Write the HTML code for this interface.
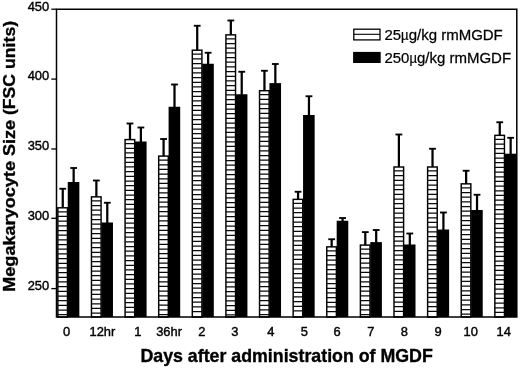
<!DOCTYPE html><html><head><meta charset="utf-8"><style>html,body{margin:0;padding:0;background:#fff}svg{display:block;filter:grayscale(1)}text{font-family:"Liberation Sans",sans-serif;fill:#000}</style></head><body>
<svg width="520" height="368" viewBox="0 0 520 368">
<rect width="520" height="368" fill="#fff"/>
<rect x="57.85" y="207.80" width="9.60" height="109.20" fill="#fff" stroke="#000" stroke-width="1.45"/>
<path d="M57.85 211.78H67.45M57.85 216.46H67.45M57.85 221.14H67.45M57.85 225.82H67.45M57.85 230.50H67.45M57.85 235.18H67.45M57.85 239.86H67.45M57.85 244.54H67.45M57.85 249.22H67.45M57.85 253.90H67.45M57.85 258.58H67.45M57.85 263.26H67.45M57.85 267.94H67.45M57.85 272.62H67.45M57.85 277.30H67.45M57.85 281.98H67.45M57.85 286.66H67.45M57.85 291.34H67.45M57.85 296.02H67.45M57.85 300.70H67.45M57.85 305.38H67.45M57.85 310.06H67.45M57.85 314.74H67.45" stroke="#0a0a0a" stroke-width="1.25" fill="none"/>
<rect x="67.75" y="182.00" width="11.60" height="135.00" fill="#000"/>
<path d="M62.75 207.70V188.75" stroke="#000" stroke-width="2.25" fill="none"/>
<path d="M59.35 188.75H66.15" stroke="#000" stroke-width="1.85" fill="none"/>
<path d="M73.65 182.50V168.00" stroke="#000" stroke-width="2.25" fill="none"/>
<path d="M70.25 168.00H77.05" stroke="#000" stroke-width="1.85" fill="none"/>
<rect x="91.47" y="196.85" width="9.60" height="120.15" fill="#fff" stroke="#000" stroke-width="1.45"/>
<path d="M91.47 200.83H101.07M91.47 205.51H101.07M91.47 210.19H101.07M91.47 214.87H101.07M91.47 219.55H101.07M91.47 224.23H101.07M91.47 228.91H101.07M91.47 233.59H101.07M91.47 238.27H101.07M91.47 242.95H101.07M91.47 247.63H101.07M91.47 252.31H101.07M91.47 256.99H101.07M91.47 261.67H101.07M91.47 266.35H101.07M91.47 271.03H101.07M91.47 275.71H101.07M91.47 280.39H101.07M91.47 285.07H101.07M91.47 289.75H101.07M91.47 294.43H101.07M91.47 299.11H101.07M91.47 303.79H101.07M91.47 308.47H101.07M91.47 313.15H101.07" stroke="#0a0a0a" stroke-width="1.25" fill="none"/>
<rect x="101.37" y="222.50" width="11.60" height="94.50" fill="#000"/>
<path d="M96.37 196.75V180.50" stroke="#000" stroke-width="2.25" fill="none"/>
<path d="M92.97 180.50H99.77" stroke="#000" stroke-width="1.85" fill="none"/>
<path d="M107.27 223.00V202.75" stroke="#000" stroke-width="2.25" fill="none"/>
<path d="M103.86 202.75H110.67" stroke="#000" stroke-width="1.85" fill="none"/>
<rect x="125.08" y="139.60" width="9.60" height="177.40" fill="#fff" stroke="#000" stroke-width="1.45"/>
<path d="M125.08 143.58H134.68M125.08 148.26H134.68M125.08 152.94H134.68M125.08 157.62H134.68M125.08 162.30H134.68M125.08 166.98H134.68M125.08 171.66H134.68M125.08 176.34H134.68M125.08 181.02H134.68M125.08 185.70H134.68M125.08 190.38H134.68M125.08 195.06H134.68M125.08 199.74H134.68M125.08 204.42H134.68M125.08 209.10H134.68M125.08 213.78H134.68M125.08 218.46H134.68M125.08 223.14H134.68M125.08 227.82H134.68M125.08 232.50H134.68M125.08 237.18H134.68M125.08 241.86H134.68M125.08 246.54H134.68M125.08 251.22H134.68M125.08 255.90H134.68M125.08 260.58H134.68M125.08 265.26H134.68M125.08 269.94H134.68M125.08 274.62H134.68M125.08 279.30H134.68M125.08 283.98H134.68M125.08 288.66H134.68M125.08 293.34H134.68M125.08 298.02H134.68M125.08 302.70H134.68M125.08 307.38H134.68M125.08 312.06H134.68" stroke="#0a0a0a" stroke-width="1.25" fill="none"/>
<rect x="134.98" y="141.50" width="11.60" height="175.50" fill="#000"/>
<path d="M129.98 139.50V123.50" stroke="#000" stroke-width="2.25" fill="none"/>
<path d="M126.58 123.50H133.38" stroke="#000" stroke-width="1.85" fill="none"/>
<path d="M140.88 142.00V127.50" stroke="#000" stroke-width="2.25" fill="none"/>
<path d="M137.48 127.50H144.28" stroke="#000" stroke-width="1.85" fill="none"/>
<rect x="158.69" y="156.10" width="9.60" height="160.90" fill="#fff" stroke="#000" stroke-width="1.45"/>
<path d="M158.69 160.08H168.30M158.69 164.76H168.30M158.69 169.44H168.30M158.69 174.12H168.30M158.69 178.80H168.30M158.69 183.48H168.30M158.69 188.16H168.30M158.69 192.84H168.30M158.69 197.52H168.30M158.69 202.20H168.30M158.69 206.88H168.30M158.69 211.56H168.30M158.69 216.24H168.30M158.69 220.92H168.30M158.69 225.60H168.30M158.69 230.28H168.30M158.69 234.96H168.30M158.69 239.64H168.30M158.69 244.32H168.30M158.69 249.00H168.30M158.69 253.68H168.30M158.69 258.36H168.30M158.69 263.04H168.30M158.69 267.72H168.30M158.69 272.40H168.30M158.69 277.08H168.30M158.69 281.76H168.30M158.69 286.44H168.30M158.69 291.12H168.30M158.69 295.80H168.30M158.69 300.48H168.30M158.69 305.16H168.30M158.69 309.84H168.30M158.69 314.52H168.30" stroke="#0a0a0a" stroke-width="1.25" fill="none"/>
<rect x="168.59" y="106.75" width="11.60" height="210.25" fill="#000"/>
<path d="M163.59 156.00V139.00" stroke="#000" stroke-width="2.25" fill="none"/>
<path d="M160.19 139.00H167.00" stroke="#000" stroke-width="1.85" fill="none"/>
<path d="M174.50 107.25V84.50" stroke="#000" stroke-width="2.25" fill="none"/>
<path d="M171.09 84.50H177.90" stroke="#000" stroke-width="1.85" fill="none"/>
<rect x="192.31" y="50.20" width="9.60" height="266.80" fill="#fff" stroke="#000" stroke-width="1.45"/>
<path d="M192.31 54.18H201.91M192.31 58.86H201.91M192.31 63.54H201.91M192.31 68.22H201.91M192.31 72.90H201.91M192.31 77.58H201.91M192.31 82.26H201.91M192.31 86.94H201.91M192.31 91.62H201.91M192.31 96.30H201.91M192.31 100.98H201.91M192.31 105.66H201.91M192.31 110.34H201.91M192.31 115.02H201.91M192.31 119.70H201.91M192.31 124.38H201.91M192.31 129.06H201.91M192.31 133.74H201.91M192.31 138.42H201.91M192.31 143.10H201.91M192.31 147.78H201.91M192.31 152.46H201.91M192.31 157.14H201.91M192.31 161.82H201.91M192.31 166.50H201.91M192.31 171.18H201.91M192.31 175.86H201.91M192.31 180.54H201.91M192.31 185.22H201.91M192.31 189.90H201.91M192.31 194.58H201.91M192.31 199.26H201.91M192.31 203.94H201.91M192.31 208.62H201.91M192.31 213.30H201.91M192.31 217.98H201.91M192.31 222.66H201.91M192.31 227.34H201.91M192.31 232.02H201.91M192.31 236.70H201.91M192.31 241.38H201.91M192.31 246.06H201.91M192.31 250.74H201.91M192.31 255.42H201.91M192.31 260.10H201.91M192.31 264.78H201.91M192.31 269.46H201.91M192.31 274.14H201.91M192.31 278.82H201.91M192.31 283.50H201.91M192.31 288.18H201.91M192.31 292.86H201.91M192.31 297.54H201.91M192.31 302.22H201.91M192.31 306.90H201.91M192.31 311.58H201.91" stroke="#0a0a0a" stroke-width="1.25" fill="none"/>
<rect x="202.21" y="63.75" width="11.60" height="253.25" fill="#000"/>
<path d="M197.21 50.10V25.75" stroke="#000" stroke-width="2.25" fill="none"/>
<path d="M193.81 25.75H200.61" stroke="#000" stroke-width="1.85" fill="none"/>
<path d="M208.11 64.25V52.75" stroke="#000" stroke-width="2.25" fill="none"/>
<path d="M204.71 52.75H211.51" stroke="#000" stroke-width="1.85" fill="none"/>
<rect x="225.93" y="34.85" width="9.60" height="282.15" fill="#fff" stroke="#000" stroke-width="1.45"/>
<path d="M225.93 38.83H235.53M225.93 43.51H235.53M225.93 48.19H235.53M225.93 52.87H235.53M225.93 57.55H235.53M225.93 62.23H235.53M225.93 66.91H235.53M225.93 71.59H235.53M225.93 76.27H235.53M225.93 80.95H235.53M225.93 85.63H235.53M225.93 90.31H235.53M225.93 94.99H235.53M225.93 99.67H235.53M225.93 104.35H235.53M225.93 109.03H235.53M225.93 113.71H235.53M225.93 118.39H235.53M225.93 123.07H235.53M225.93 127.75H235.53M225.93 132.43H235.53M225.93 137.11H235.53M225.93 141.79H235.53M225.93 146.47H235.53M225.93 151.15H235.53M225.93 155.83H235.53M225.93 160.51H235.53M225.93 165.19H235.53M225.93 169.87H235.53M225.93 174.55H235.53M225.93 179.23H235.53M225.93 183.91H235.53M225.93 188.59H235.53M225.93 193.27H235.53M225.93 197.95H235.53M225.93 202.63H235.53M225.93 207.31H235.53M225.93 211.99H235.53M225.93 216.67H235.53M225.93 221.35H235.53M225.93 226.03H235.53M225.93 230.71H235.53M225.93 235.39H235.53M225.93 240.07H235.53M225.93 244.75H235.53M225.93 249.43H235.53M225.93 254.11H235.53M225.93 258.79H235.53M225.93 263.47H235.53M225.93 268.15H235.53M225.93 272.83H235.53M225.93 277.51H235.53M225.93 282.19H235.53M225.93 286.87H235.53M225.93 291.55H235.53M225.93 296.23H235.53M225.93 300.91H235.53M225.93 305.59H235.53M225.93 310.27H235.53M225.93 314.95H235.53" stroke="#0a0a0a" stroke-width="1.25" fill="none"/>
<rect x="235.83" y="94.25" width="11.60" height="222.75" fill="#000"/>
<path d="M230.83 34.75V20.50" stroke="#000" stroke-width="2.25" fill="none"/>
<path d="M227.43 20.50H234.23" stroke="#000" stroke-width="1.85" fill="none"/>
<path d="M241.73 94.75V71.75" stroke="#000" stroke-width="2.25" fill="none"/>
<path d="M238.33 71.75H245.13" stroke="#000" stroke-width="1.85" fill="none"/>
<rect x="259.54" y="90.70" width="9.60" height="226.30" fill="#fff" stroke="#000" stroke-width="1.45"/>
<path d="M259.54 94.68H269.14M259.54 99.36H269.14M259.54 104.04H269.14M259.54 108.72H269.14M259.54 113.40H269.14M259.54 118.08H269.14M259.54 122.76H269.14M259.54 127.44H269.14M259.54 132.12H269.14M259.54 136.80H269.14M259.54 141.48H269.14M259.54 146.16H269.14M259.54 150.84H269.14M259.54 155.52H269.14M259.54 160.20H269.14M259.54 164.88H269.14M259.54 169.56H269.14M259.54 174.24H269.14M259.54 178.92H269.14M259.54 183.60H269.14M259.54 188.28H269.14M259.54 192.96H269.14M259.54 197.64H269.14M259.54 202.32H269.14M259.54 207.00H269.14M259.54 211.68H269.14M259.54 216.36H269.14M259.54 221.04H269.14M259.54 225.72H269.14M259.54 230.40H269.14M259.54 235.08H269.14M259.54 239.76H269.14M259.54 244.44H269.14M259.54 249.12H269.14M259.54 253.80H269.14M259.54 258.48H269.14M259.54 263.16H269.14M259.54 267.84H269.14M259.54 272.52H269.14M259.54 277.20H269.14M259.54 281.88H269.14M259.54 286.56H269.14M259.54 291.24H269.14M259.54 295.92H269.14M259.54 300.60H269.14M259.54 305.28H269.14M259.54 309.96H269.14M259.54 314.64H269.14" stroke="#0a0a0a" stroke-width="1.25" fill="none"/>
<rect x="269.44" y="83.10" width="11.60" height="233.90" fill="#000"/>
<path d="M264.44 90.60V70.75" stroke="#000" stroke-width="2.25" fill="none"/>
<path d="M261.04 70.75H267.84" stroke="#000" stroke-width="1.85" fill="none"/>
<path d="M275.34 83.60V64.00" stroke="#000" stroke-width="2.25" fill="none"/>
<path d="M271.94 64.00H278.74" stroke="#000" stroke-width="1.85" fill="none"/>
<rect x="293.16" y="199.35" width="9.60" height="117.65" fill="#fff" stroke="#000" stroke-width="1.45"/>
<path d="M293.16 203.33H302.75M293.16 208.01H302.75M293.16 212.69H302.75M293.16 217.37H302.75M293.16 222.05H302.75M293.16 226.73H302.75M293.16 231.41H302.75M293.16 236.09H302.75M293.16 240.77H302.75M293.16 245.45H302.75M293.16 250.13H302.75M293.16 254.81H302.75M293.16 259.49H302.75M293.16 264.17H302.75M293.16 268.85H302.75M293.16 273.53H302.75M293.16 278.21H302.75M293.16 282.89H302.75M293.16 287.57H302.75M293.16 292.25H302.75M293.16 296.93H302.75M293.16 301.61H302.75M293.16 306.29H302.75M293.16 310.97H302.75" stroke="#0a0a0a" stroke-width="1.25" fill="none"/>
<rect x="303.06" y="115.00" width="11.60" height="202.00" fill="#000"/>
<path d="M298.06 199.25V191.75" stroke="#000" stroke-width="2.25" fill="none"/>
<path d="M294.66 191.75H301.45" stroke="#000" stroke-width="1.85" fill="none"/>
<path d="M308.96 115.50V96.25" stroke="#000" stroke-width="2.25" fill="none"/>
<path d="M305.56 96.25H312.36" stroke="#000" stroke-width="1.85" fill="none"/>
<rect x="326.77" y="246.85" width="9.60" height="70.15" fill="#fff" stroke="#000" stroke-width="1.45"/>
<path d="M326.77 250.83H336.37M326.77 255.51H336.37M326.77 260.19H336.37M326.77 264.87H336.37M326.77 269.55H336.37M326.77 274.23H336.37M326.77 278.91H336.37M326.77 283.59H336.37M326.77 288.27H336.37M326.77 292.95H336.37M326.77 297.63H336.37M326.77 302.31H336.37M326.77 306.99H336.37M326.77 311.67H336.37" stroke="#0a0a0a" stroke-width="1.25" fill="none"/>
<rect x="336.67" y="220.75" width="11.60" height="96.25" fill="#000"/>
<path d="M331.67 246.75V239.25" stroke="#000" stroke-width="2.25" fill="none"/>
<path d="M328.27 239.25H335.07" stroke="#000" stroke-width="1.85" fill="none"/>
<path d="M342.57 221.25V218.00" stroke="#000" stroke-width="2.25" fill="none"/>
<path d="M339.17 218.00H345.97" stroke="#000" stroke-width="1.85" fill="none"/>
<rect x="360.39" y="245.10" width="9.60" height="71.90" fill="#fff" stroke="#000" stroke-width="1.45"/>
<path d="M360.39 249.08H369.99M360.39 253.76H369.99M360.39 258.44H369.99M360.39 263.12H369.99M360.39 267.80H369.99M360.39 272.48H369.99M360.39 277.16H369.99M360.39 281.84H369.99M360.39 286.52H369.99M360.39 291.20H369.99M360.39 295.88H369.99M360.39 300.56H369.99M360.39 305.24H369.99M360.39 309.92H369.99M360.39 314.60H369.99" stroke="#0a0a0a" stroke-width="1.25" fill="none"/>
<rect x="370.29" y="242.10" width="11.60" height="74.90" fill="#000"/>
<path d="M365.29 245.00V232.10" stroke="#000" stroke-width="2.25" fill="none"/>
<path d="M361.89 232.10H368.69" stroke="#000" stroke-width="1.85" fill="none"/>
<path d="M376.19 242.60V230.00" stroke="#000" stroke-width="2.25" fill="none"/>
<path d="M372.79 230.00H379.59" stroke="#000" stroke-width="1.85" fill="none"/>
<rect x="394.00" y="167.00" width="9.60" height="150.00" fill="#fff" stroke="#000" stroke-width="1.45"/>
<path d="M394.00 170.98H403.60M394.00 175.66H403.60M394.00 180.34H403.60M394.00 185.02H403.60M394.00 189.70H403.60M394.00 194.38H403.60M394.00 199.06H403.60M394.00 203.74H403.60M394.00 208.42H403.60M394.00 213.10H403.60M394.00 217.78H403.60M394.00 222.46H403.60M394.00 227.14H403.60M394.00 231.82H403.60M394.00 236.50H403.60M394.00 241.18H403.60M394.00 245.86H403.60M394.00 250.54H403.60M394.00 255.22H403.60M394.00 259.90H403.60M394.00 264.58H403.60M394.00 269.26H403.60M394.00 273.94H403.60M394.00 278.62H403.60M394.00 283.30H403.60M394.00 287.98H403.60M394.00 292.66H403.60M394.00 297.34H403.60M394.00 302.02H403.60M394.00 306.70H403.60M394.00 311.38H403.60" stroke="#0a0a0a" stroke-width="1.25" fill="none"/>
<rect x="403.90" y="244.50" width="11.60" height="72.50" fill="#000"/>
<path d="M398.90 166.90V134.50" stroke="#000" stroke-width="2.25" fill="none"/>
<path d="M395.50 134.50H402.30" stroke="#000" stroke-width="1.85" fill="none"/>
<path d="M409.80 245.00V233.50" stroke="#000" stroke-width="2.25" fill="none"/>
<path d="M406.40 233.50H413.20" stroke="#000" stroke-width="1.85" fill="none"/>
<rect x="427.62" y="167.00" width="9.60" height="150.00" fill="#fff" stroke="#000" stroke-width="1.45"/>
<path d="M427.62 170.98H437.22M427.62 175.66H437.22M427.62 180.34H437.22M427.62 185.02H437.22M427.62 189.70H437.22M427.62 194.38H437.22M427.62 199.06H437.22M427.62 203.74H437.22M427.62 208.42H437.22M427.62 213.10H437.22M427.62 217.78H437.22M427.62 222.46H437.22M427.62 227.14H437.22M427.62 231.82H437.22M427.62 236.50H437.22M427.62 241.18H437.22M427.62 245.86H437.22M427.62 250.54H437.22M427.62 255.22H437.22M427.62 259.90H437.22M427.62 264.58H437.22M427.62 269.26H437.22M427.62 273.94H437.22M427.62 278.62H437.22M427.62 283.30H437.22M427.62 287.98H437.22M427.62 292.66H437.22M427.62 297.34H437.22M427.62 302.02H437.22M427.62 306.70H437.22M427.62 311.38H437.22" stroke="#0a0a0a" stroke-width="1.25" fill="none"/>
<rect x="437.52" y="229.50" width="11.60" height="87.50" fill="#000"/>
<path d="M432.52 166.90V148.75" stroke="#000" stroke-width="2.25" fill="none"/>
<path d="M429.12 148.75H435.92" stroke="#000" stroke-width="1.85" fill="none"/>
<path d="M443.42 230.00V212.50" stroke="#000" stroke-width="2.25" fill="none"/>
<path d="M440.02 212.50H446.82" stroke="#000" stroke-width="1.85" fill="none"/>
<rect x="461.23" y="183.85" width="9.60" height="133.15" fill="#fff" stroke="#000" stroke-width="1.45"/>
<path d="M461.23 187.83H470.83M461.23 192.51H470.83M461.23 197.19H470.83M461.23 201.87H470.83M461.23 206.55H470.83M461.23 211.23H470.83M461.23 215.91H470.83M461.23 220.59H470.83M461.23 225.27H470.83M461.23 229.95H470.83M461.23 234.63H470.83M461.23 239.31H470.83M461.23 243.99H470.83M461.23 248.67H470.83M461.23 253.35H470.83M461.23 258.03H470.83M461.23 262.71H470.83M461.23 267.39H470.83M461.23 272.07H470.83M461.23 276.75H470.83M461.23 281.43H470.83M461.23 286.11H470.83M461.23 290.79H470.83M461.23 295.47H470.83M461.23 300.15H470.83M461.23 304.83H470.83M461.23 309.51H470.83M461.23 314.19H470.83" stroke="#0a0a0a" stroke-width="1.25" fill="none"/>
<rect x="471.13" y="210.00" width="11.60" height="107.00" fill="#000"/>
<path d="M466.13 183.75V170.75" stroke="#000" stroke-width="2.25" fill="none"/>
<path d="M462.73 170.75H469.53" stroke="#000" stroke-width="1.85" fill="none"/>
<path d="M477.03 210.50V194.75" stroke="#000" stroke-width="2.25" fill="none"/>
<path d="M473.63 194.75H480.43" stroke="#000" stroke-width="1.85" fill="none"/>
<rect x="494.85" y="135.35" width="9.60" height="181.65" fill="#fff" stroke="#000" stroke-width="1.45"/>
<path d="M494.85 139.33H504.44M494.85 144.01H504.44M494.85 148.69H504.44M494.85 153.37H504.44M494.85 158.05H504.44M494.85 162.73H504.44M494.85 167.41H504.44M494.85 172.09H504.44M494.85 176.77H504.44M494.85 181.45H504.44M494.85 186.13H504.44M494.85 190.81H504.44M494.85 195.49H504.44M494.85 200.17H504.44M494.85 204.85H504.44M494.85 209.53H504.44M494.85 214.21H504.44M494.85 218.89H504.44M494.85 223.57H504.44M494.85 228.25H504.44M494.85 232.93H504.44M494.85 237.61H504.44M494.85 242.29H504.44M494.85 246.97H504.44M494.85 251.65H504.44M494.85 256.33H504.44M494.85 261.01H504.44M494.85 265.69H504.44M494.85 270.37H504.44M494.85 275.05H504.44M494.85 279.73H504.44M494.85 284.41H504.44M494.85 289.09H504.44M494.85 293.77H504.44M494.85 298.45H504.44M494.85 303.13H504.44M494.85 307.81H504.44M494.85 312.49H504.44" stroke="#0a0a0a" stroke-width="1.25" fill="none"/>
<rect x="504.75" y="153.70" width="12.20" height="163.30" fill="#000"/>
<path d="M499.75 135.25V122.25" stroke="#000" stroke-width="2.25" fill="none"/>
<path d="M496.35 122.25H503.14" stroke="#000" stroke-width="1.85" fill="none"/>
<path d="M510.65 154.20V137.80" stroke="#000" stroke-width="2.25" fill="none"/>
<path d="M507.25 137.80H514.05" stroke="#000" stroke-width="1.85" fill="none"/>
<path d="M56.5 9.2H516.8V317.0H56.5Z" fill="none" stroke="#000" stroke-width="1.5"/>
<path d="M51.3 9.20H56.5" stroke="#000" stroke-width="1.3"/>
<text transform="translate(49.20,10.80) scale(1.0,1)" font-size="12.9" text-anchor="end" stroke="#000" stroke-width="0.4">450</text>
<path d="M51.3 79.10H56.5" stroke="#000" stroke-width="1.3"/>
<text transform="translate(49.20,80.40) scale(1.0,1)" font-size="12.9" text-anchor="end" stroke="#000" stroke-width="0.4">400</text>
<path d="M51.3 149.00H56.5" stroke="#000" stroke-width="1.3"/>
<text transform="translate(49.20,150.30) scale(1.0,1)" font-size="12.9" text-anchor="end" stroke="#000" stroke-width="0.4">350</text>
<path d="M51.3 218.30H56.5" stroke="#000" stroke-width="1.3"/>
<text transform="translate(49.20,219.60) scale(1.0,1)" font-size="12.9" text-anchor="end" stroke="#000" stroke-width="0.4">300</text>
<path d="M51.3 288.60H56.5" stroke="#000" stroke-width="1.3"/>
<text transform="translate(49.20,289.90) scale(1.0,1)" font-size="12.9" text-anchor="end" stroke="#000" stroke-width="0.4">250</text>
<text transform="translate(66.65,335.60) scale(1.0,1)" font-size="12.9" text-anchor="middle" stroke="#000" stroke-width="0.4">0</text>
<text transform="translate(102.37,335.60) scale(1.0,1)" font-size="12.9" text-anchor="middle" stroke="#000" stroke-width="0.4">12hr</text>
<text transform="translate(137.78,335.60) scale(1.0,1)" font-size="12.9" text-anchor="middle" stroke="#000" stroke-width="0.4">1</text>
<text transform="translate(169.09,335.60) scale(1.0,1)" font-size="12.9" text-anchor="middle" stroke="#000" stroke-width="0.4">36hr</text>
<text transform="translate(201.81,335.60) scale(1.0,1)" font-size="12.9" text-anchor="middle" stroke="#000" stroke-width="0.4">2</text>
<text transform="translate(234.83,335.60) scale(1.0,1)" font-size="12.9" text-anchor="middle" stroke="#000" stroke-width="0.4">3</text>
<text transform="translate(270.94,335.60) scale(1.0,1)" font-size="12.9" text-anchor="middle" stroke="#000" stroke-width="0.4">4</text>
<text transform="translate(304.36,335.60) scale(1.0,1)" font-size="12.9" text-anchor="middle" stroke="#000" stroke-width="0.4">5</text>
<text transform="translate(337.17,335.60) scale(1.0,1)" font-size="12.9" text-anchor="middle" stroke="#000" stroke-width="0.4">6</text>
<text transform="translate(370.79,335.60) scale(1.0,1)" font-size="12.9" text-anchor="middle" stroke="#000" stroke-width="0.4">7</text>
<text transform="translate(404.40,335.60) scale(1.0,1)" font-size="12.9" text-anchor="middle" stroke="#000" stroke-width="0.4">8</text>
<text transform="translate(438.02,335.60) scale(1.0,1)" font-size="12.9" text-anchor="middle" stroke="#000" stroke-width="0.4">9</text>
<text transform="translate(470.63,335.60) scale(1.0,1)" font-size="12.9" text-anchor="middle" stroke="#000" stroke-width="0.4">10</text>
<text transform="translate(503.64,335.60) scale(1.0,1)" font-size="12.9" text-anchor="middle" stroke="#000" stroke-width="0.4">14</text>
<text id="xt" transform="translate(286.60,362.40) scale(0.994,1)" font-size="17.9" text-anchor="middle" font-weight="bold" stroke="#000" stroke-width="0.35">Days after administration of MGDF</text>
<text id="yt" transform="translate(14.50,291.80) rotate(-90) scale(1.012,0.93)" font-size="17.9" font-weight="bold" stroke="#000" stroke-width="0.35">Megakaryocyte Size</text>
<text transform="translate(14.50,20.90) rotate(-90) scale(0.987,0.93)" font-size="17.9" text-anchor="end" font-weight="bold" stroke="#000" stroke-width="0.35">(FSC units)</text>
<rect x="353.8" y="29.2" width="26.2" height="10.7" fill="#fff" stroke="#000" stroke-width="1.3"/>
<path d="M353.8 34.3H380" stroke="#000" stroke-width="1.1"/>
<rect x="353.1" y="51.9" width="27.6" height="11.1" fill="#000"/>
<text transform="translate(384.50,40.40) scale(0.97,1)" font-size="15.4" stroke="#000" stroke-width="0.25">25</text>
<text transform="translate(401.11,40.40) scale(0.85,1)" font-size="15.4" stroke="#000" stroke-width="0.25">µ</text>
<text transform="translate(408.65,40.40) scale(0.975,1)" font-size="15.4" stroke="#000" stroke-width="0.25">g/kg rmMGDF</text>
<text transform="translate(384.50,63.20) scale(0.97,1)" font-size="15.4" stroke="#000" stroke-width="0.25">250</text>
<text transform="translate(409.42,63.20) scale(0.85,1)" font-size="15.4" stroke="#000" stroke-width="0.25">µ</text>
<text transform="translate(416.96,63.20) scale(0.975,1)" font-size="15.4" stroke="#000" stroke-width="0.25">g/kg rmMGDF</text>
</svg></body></html>
